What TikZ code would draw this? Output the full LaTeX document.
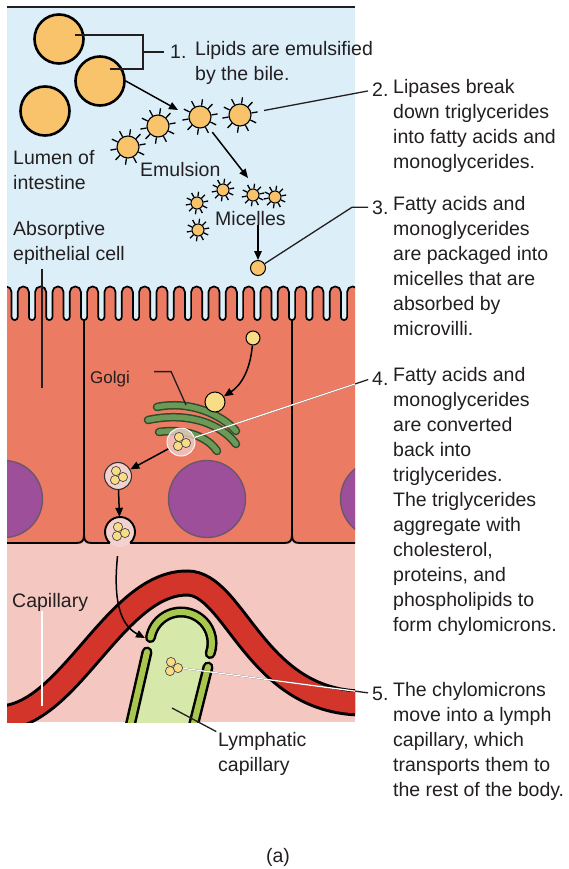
\documentclass[tikz,border=0pt]{standalone}
\usepackage{fontspec}
\setmainfont{Liberation Sans}
\usetikzlibrary{arrows.meta,calc}
\definecolor{lumen}{HTML}{DCEFF9}
\definecolor{cellc}{HTML}{EB7B63}
\definecolor{tissue}{HTML}{F4C7C1}
\definecolor{capred}{HTML}{D3352B}
\definecolor{nucl}{HTML}{9D4F9A}
\definecolor{nuclout}{HTML}{6D566D}
\definecolor{golgic}{HTML}{6B9A57}
\definecolor{golgiout}{HTML}{2F4A2C}
\definecolor{lwall}{HTML}{A9C64F}
\definecolor{linner}{HTML}{D7E8AB}
\definecolor{lipid}{HTML}{F8C36A}
\definecolor{yball}{HTML}{F9DC86}
\definecolor{vesic}{HTML}{F3D2CE}
\definecolor{ink}{HTML}{231F20}

% top edge of the epithelium: one finger per 17.333 units
\newcommand\villipath{%
  \foreach \k in {0,...,21}{ -- ({84+(\k-5)*17.333+3.1},292)
    arc[start angle=180,end angle=360,radius=5.5665] -- ++(0,25)
    arc[start angle=180,end angle=0,radius=3.1] }}
% spikes around an emulsion droplet or micelle
\newcommand\spikes[2]{\foreach \a in {10,46,...,334}{\draw[spike] (#1.\a) -- ($(#1.center)!#2!(#1.\a)$);}}
% three chylomicron droplets grouped around a centre
\newcommand\trio[1]{\foreach \dx/\dy in {-2/-5,-3/4,5/1}{\filldraw[tball] ($(#1)+(\dx,\dy)$) circle (4.6);}}

\begin{document}
\begin{tikzpicture}[x=1pt,y=-1pt,
  txt/.style={font=\fontsize{19.5}{25}\selectfont, text=ink, inner sep=0pt, anchor=base west},
  % multi-line labels: placed by the baseline of their first line
  mtxt/.style={font=\fontsize{19.5}{25}\selectfont, text=ink, inner sep=0pt, anchor=north west,
    align=left, yshift=17.5pt, execute at begin node=\strut},
  lead/.style={draw=ink, line width=1.3pt},
  leadw/.style={draw=white, line width=1.3pt},
  arr/.style={draw=black, line width=1.5pt, -{Triangle[length=9pt,width=7.5pt]}},
  villi/.style={draw=black, line width=1.7pt},
  memb/.style={draw=black, line width=1.9pt},
  nucleus/.style={fill=nucl, draw=nuclout, line width=1.4pt},
  bigdrop/.style={circle, draw=black, line width=2.6pt, fill=lipid, minimum size=49pt, inner sep=0pt},
  emul/.style={circle, draw=black, line width=1.1pt, fill=lipid, minimum size=22pt, inner sep=0pt},
  micel/.style={circle, draw=black, line width=1pt, fill=lipid, minimum size=12pt, inner sep=0pt},
  spike/.style={draw=black, line width=1.3pt},
  yb/.style={circle, draw=black, line width=1pt, fill=#1, inner sep=0pt},
  tball/.style={fill=yball, draw=black!70, line width=0.7pt},
  vesicle/.style={circle, fill=vesic, draw=black!80, line width=1.1pt, minimum size=27pt, inner sep=0pt},
  golgi/.style={draw=golgic, line width=5.5pt, line cap=round, preaction={draw=golgiout, line width=8.5pt, line cap=round}},
  capband/.style={draw=capred, line width=21pt, preaction={draw=black, line width=27pt}},
  lymwall/.style={draw=lwall, line width=6pt, line cap=round, preaction={draw=black, line width=11pt, line cap=round}},
]
\fill[white] (0,0) rectangle (569,869);
\useasboundingbox (0,0) rectangle (569,869);

\begin{scope}
  \clip (7,7) rectangle (355,722);
  \fill[tissue] (7,7) rectangle (355,722);
  \fill[lumen] (7,7) rectangle (355,330);
  % epithelial cells
  \fill[cellc] ({84-5*17.333+3.1},317) \villipath -- (390,317) -- (390,543) -- (-10,543) -- (-10,317) -- cycle;
  \foreach \x in {84,292}
    \fill[tissue] ({\x-8},543) .. controls ({\x-2},543) and (\x,541) .. (\x,535)
      .. controls (\x,541) and ({\x+2},543) .. ({\x+8},543) -- cycle;
  \foreach \x in {4,207,379} \filldraw[nucleus] (\x,499) circle (38.5);
  \node[circle, minimum size=30pt, inner sep=0pt, fill=vesic] (exo) at (120,532) {};
  \draw[villi] ({84-5*17.333+3.1},317) \villipath;
  \draw[memb] (-10,543) -- (76,543) .. controls (82,543) and (84,541) .. (84,535) -- (84,319);
  \draw[memb] (84,535) .. controls (84,541) and (86,543) .. (92,543) -- (109.8,543);
  \draw[memb] (130.2,543) -- (284,543) .. controls (290,543) and (292,541) .. (292,535) -- (292,319);
  \draw[memb] (292,535) .. controls (292,541) and (294,543) .. (300,543) -- (390,543);
  \draw[memb] (109.8,543) arc[start angle=133,end angle=407,radius=15];
  \trio{exo}

  % blood capillary
  \draw[capband] (0,718) .. controls (70,716) and (115,583) .. (187,583)
    .. controls (235,583) and (255,702) .. (362,703);

  % lymphatic capillary
  \fill[linner] (128,735) -- (147,652) -- (150.5,637.6) arc[start angle=190,end angle=380,radius=31]
    -- (208,667) -- (191,735) -- cycle;
  \draw[lymwall] (147,652) -- (128,735);
  \draw[lymwall] (150.5,637.6) arc[start angle=190,end angle=380,radius=31];
  \draw[lymwall] (208,667) -- (191,735);
  \node[circle, minimum size=20pt, inner sep=0pt] (chy) at (173,667) {};
  \trio{chy}
  \coordinate (gapL) at (145,638);
  \coordinate (lyi) at (172,708);

  % Golgi apparatus and vesicles
  \draw[golgi] (157,407) .. controls (190,400) and (222,415) .. (236,431);
  \draw[golgi] (148,420) .. controls (190,411) and (222,425) .. (236,444);
  \draw[golgi] (159,432) .. controls (185,428) and (208,437) .. (217,451);
  \node[circle, minimum size=28pt, inner sep=0pt, fill=vesic, fill opacity=0.75, draw=white!80!vesic, line width=1pt] (gv) at (181,442) {};
  \trio{gv}
  \node[vesicle] (v2) at (118,476) {};
  \trio{v2}
  \node[yb=yball, minimum size=14pt] (b2) at (253,338) {};
  \node[yb=yball, minimum size=20pt] (b3) at (215,402) {};
  \coordinate (gk) at (186,405);
\end{scope}

\draw[ink, line width=1.5pt] (7,7) -- (355,7);

% lipid droplets, emulsion and micelles
\node[bigdrop] (lip1) at (59,39) {};
\node[bigdrop] (lip2) at (100,81) {};
\node[bigdrop] (lip3) at (45,111) {};
\node[emul] (e1) at (128,147) {}; \spikes{e1}{1.55}
\node[emul] (e2) at (158,126) {}; \spikes{e2}{1.55}
\node[emul] (e3) at (200,117) {}; \spikes{e3}{1.55}
\node[emul] (e4) at (240,115) {}; \spikes{e4}{1.55}
\node[micel] (m1) at (223,190) {}; \spikes{m1}{1.75}
\node[micel] (m2) at (253,195) {}; \spikes{m2}{1.75}
\node[micel] (m3) at (275,197) {}; \spikes{m3}{1.75}
\node[micel] (m4) at (197,203) {}; \spikes{m4}{1.75}
\node[micel] (m5) at (198,230) {}; \spikes{m5}{1.75}
\node[yb=lipid, minimum size=15pt] (b1) at (258,268) {};

% labels
\node[txt] (n1) at (170,59) {1.};
\node[mtxt] (t1) at (195,59) {Lipids are emulsified\\by the bile.};
\node[txt] (n2) at (372,97) {2.};
\node[mtxt] (t2) at (393,97) {Lipases break\\down triglycerides\\into fatty acids and\\monoglycerides.};
\node[txt] (n3) at (372,214) {3.};
\node[mtxt] (t3) at (393,214) {Fatty acids and\\monoglycerides\\are packaged into\\micelles that are\\absorbed by\\microvilli.};
\node[txt] (n4) at (372,385) {4.};
\node[mtxt] (t4) at (393,385) {Fatty acids and\\monoglycerides\\are converted\\back into\\triglycerides.\\The triglycerides\\aggregate with\\cholesterol,\\proteins, and\\phospholipids to\\form chylomicrons.};
\node[txt] (n5) at (372,700) {5.};
\node[mtxt] (t5) at (393,700) {The chylomicrons\\move into a lymph\\capillary, which\\transports them to\\the rest of the body.};
\node[mtxt] (lum) at (13,168) {Lumen of\\intestine};
\node[mtxt] (abs) at (13,239) {Absorptive\\epithelial cell};
\node[txt] (emu) at (140,177) {Emulsion};
\node[txt] (mic) at (215,225) {Micelles};
\node[txt, font=\fontsize{17}{21}\selectfont] (gol) at (90,383) {Golgi};
\node[txt] (cap) at (12,607) {Capillary};
\node[mtxt] (lym) at (218,750) {Lymphatic\\capillary};
\node[font=\fontsize{19.5}{25}\selectfont, text=ink, inner sep=0pt] (lbl) at (278,857) {(a)};

% leader lines
\coordinate (bk) at (143,52);
\draw[lead] ($(lip1)+(16,-4)$) -| (bk) |- ($(lip2)+(10,-12)$);
\draw[lead, shorten >=6pt] (bk) -- (bk -| n1.west);
\draw[lead, shorten <=13pt, shorten >=4pt] (e4) -- (n2.west);
\coordinate (k3) at ($(n3.west)+(-20,0)$);
\draw[lead, shorten >=4pt] (b1) -- (k3) -- (n3.west);
\coordinate (ab) at (42,388);
\draw[lead] (ab |- abs.south) -- (ab);
\coordinate (cpb) at (42,706);
\draw[leadw] (cpb |- cap.south) -- (cpb);
\draw[lead] ($(gol.east)+(24,-7)$) -- ++(17,0) -- (gk);
\draw[lead, shorten >=2pt] (lyi) -- (lym.north west);
\draw[lead, shorten >=4pt] (gv) -- (n4.west);
\draw[lead, shorten >=4pt] (chy) -- (n5.west);
\begin{scope}
  \clip (7,7) rectangle (355,722);
  \draw[leadw] (gv) -- (n4.west);
  \draw[leadw] (chy) -- (n5.west);
\end{scope}

% arrows
\draw[arr] (lip2.east) -- ($(e3)+(-22,-7)$);
\draw[arr, shorten <=8pt] (e3.-50) -- ($(m2)+(-5,-17)$);
\draw[arr] (mic.south -| b1) -- (b1);
\draw[arr] (b2) .. controls (250,372) and (240,386) .. (b3);
\draw[arr] (gv) -- (v2);
\draw[arr] (v2) -- (exo);
\draw[arr, shorten <=9pt] (exo) .. controls (113,600) and (120,625) .. (gapL);
\end{tikzpicture}
\end{document}
